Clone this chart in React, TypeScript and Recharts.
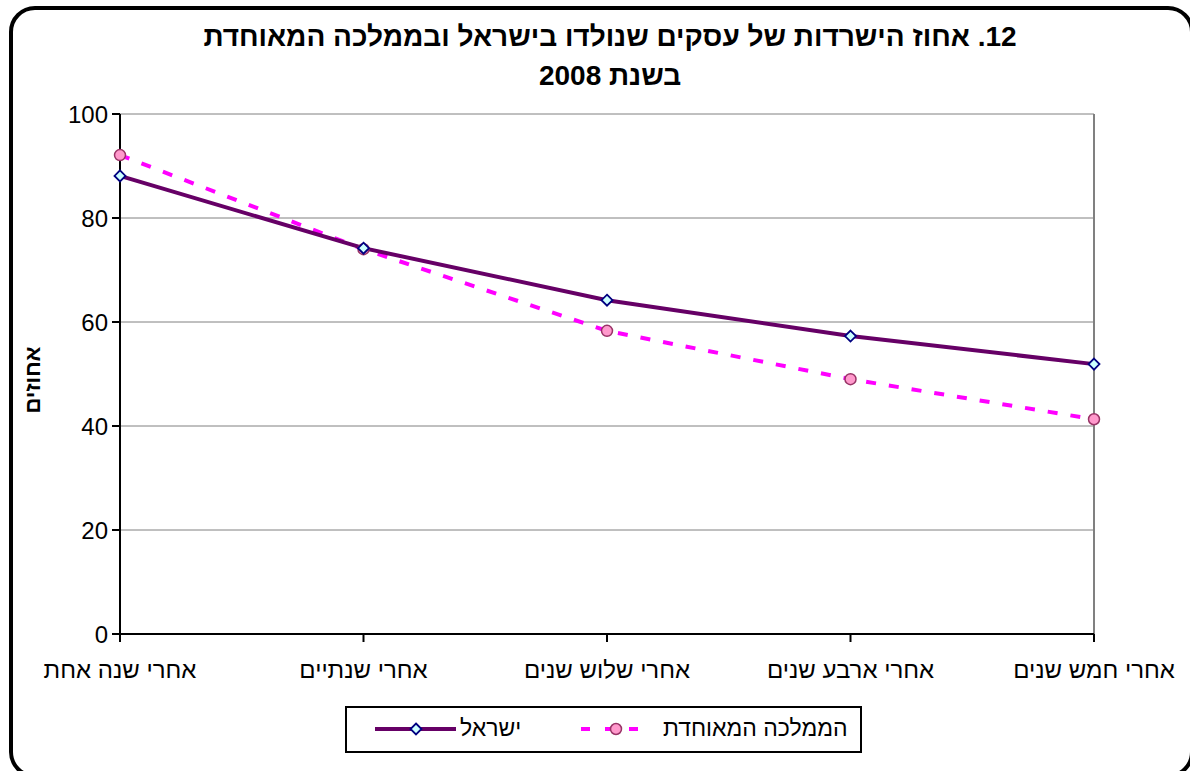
import React from 'react';
import { LineChart, Line, XAxis, YAxis, CartesianGrid, ReferenceLine } from 'recharts';

const categories = ['אחרי שנה אחת', 'אחרי שנתיים', 'אחרי שלוש שנים', 'אחרי ארבע שנים', 'אחרי חמש שנים'];
const israel = [88.1, 74.2, 64.2, 57.3, 51.9];
const uk = [92.1, 74.0, 58.3, 49.0, 41.3];
const yTicks = [0, 20, 40, 60, 80, 100];
const seriesNames = { israel: 'ישראל', uk: 'הממלכה המאוחדת' };
const titleLines = ['12. אחוז הישרדות של עסקים שנולדו בישראל ובממלכה המאוחדת', 'בשנת 2008'];
const yLabel = 'אחוזים';

const data = categories.map((c, i) => ({ cat: c, israel: israel[i], uk: uk[i] }));

const FONT = '"Liberation Sans", Arial, sans-serif';
const ISR = '#660066';
const UKC = '#FF00FF';

const Diamond = (props: any) => {
  const { cx, cy, index } = props;
  if (cx == null || cy == null) return <g key={`d${index}`} />;
  const r = 5.5;
  return (
    <path key={`d${index}`} d={`M${cx},${cy - r}L${cx + r},${cy}L${cx},${cy + r}L${cx - r},${cy}Z`}
      fill="#CCFFFF" stroke="#000080" strokeWidth={1.8} />
  );
};

const Circle = (props: any) => {
  const { cx, cy, index } = props;
  if (cx == null || cy == null) return <g key={`c${index}`} />;
  return <circle key={`c${index}`} cx={cx} cy={cy} r={5.5} fill="#FF99CC" stroke="#993366" strokeWidth={1.5} />;
};

export default function App() {
  return (
    <div style={{ position: 'absolute', left: 0, top: 0, width: 1190, height: 771, overflow: 'hidden', background: '#fff', fontFamily: FONT }}>
      <div style={{ position: 'absolute', left: 9, top: 6, width: 1185, height: 772, border: '4px solid #000', borderRadius: 26, boxSizing: 'border-box' }} />
      <div dir="rtl" style={{ position: 'absolute', left: 0, width: 1220, top: 17, textAlign: 'center', fontWeight: 'bold', fontSize: 28, lineHeight: '39px', color: '#000' }}>
        <div>{titleLines[0]}</div>
        <div>{titleLines[1]}</div>
      </div>
      <div style={{ position: 'absolute', left: 33, top: 380, transform: 'translate(-50%, -50%) rotate(-90deg)', fontWeight: 'bold', fontSize: 22, whiteSpace: 'nowrap' }}>{yLabel}</div>
      <div style={{ position: 'absolute', left: 0, top: 0 }}>
        <LineChart width={1190} height={771} data={data} margin={{ top: 114, right: 96, bottom: 77, left: 0 }}>
          <CartesianGrid horizontal vertical={false} stroke="#808080" strokeWidth={1} />
          <ReferenceLine x={categories[categories.length - 1]} stroke="#808080" strokeWidth={2} ifOverflow="visible" />
          <XAxis dataKey="cat" height={60} tickSize={8} tickMargin={19} interval={0}
            axisLine={{ stroke: '#000', strokeWidth: 2 }} tickLine={{ stroke: '#000', strokeWidth: 2 }}
            tick={{ fill: '#000', fontSize: 24, fontFamily: FONT }} />
          <YAxis width={120} domain={[0, 100]} ticks={yTicks} tickSize={8} tickMargin={4}
            axisLine={{ stroke: '#000', strokeWidth: 2 }} tickLine={{ stroke: '#000', strokeWidth: 2 }}
            tick={{ fill: '#000', fontSize: 24, fontFamily: FONT }} />
          <Line type="linear" dataKey="uk" stroke={UKC} strokeWidth={4} strokeDasharray="10 13" dot={Circle} activeDot={false} isAnimationActive={false} />
          <Line type="linear" dataKey="israel" stroke={ISR} strokeWidth={4} dot={Diamond} activeDot={false} isAnimationActive={false} />
        </LineChart>
      </div>
      <div style={{ position: 'absolute', left: 345, top: 706, width: 517, height: 47, border: '2px solid #000', boxSizing: 'border-box' }}>
        <svg width={513} height={43} style={{ position: 'absolute', left: 0, top: 0 }}>
          <line x1={28} y1={21} x2={109} y2={21} stroke={ISR} strokeWidth={4} />
          <Diamond cx={69} cy={21} index={0} />
          <line x1={234} y1={21} x2={298} y2={21} stroke={UKC} strokeWidth={4} strokeDasharray="9 15" />
          <Circle cx={269} cy={21} index={1} />
        </svg>
        <div style={{ position: 'absolute', left: 113, top: 7, fontSize: 23, lineHeight: '27px' }}>{seriesNames.israel}</div>
        <div style={{ position: 'absolute', left: 316, top: 7, fontSize: 23, lineHeight: '27px' }}>{seriesNames.uk}</div>
      </div>
    </div>
  );
}
